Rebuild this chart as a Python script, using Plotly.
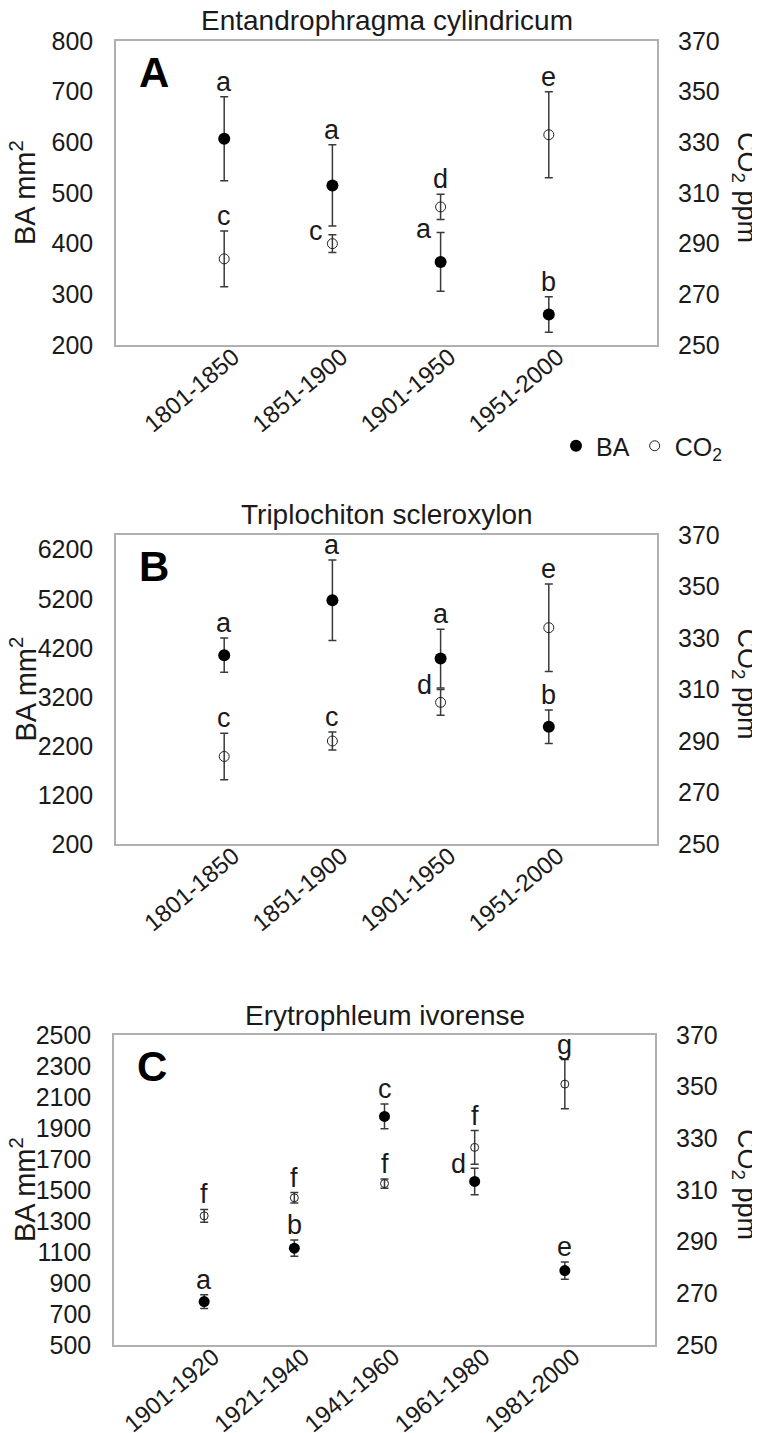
import plotly.graph_objects as go

W, H = 760, 1433

# ---------------- data ----------------
titles = ["Entandrophragma cylindricum", "Triplochiton scleroxylon", "Erytrophleum ivorense"]
panel_letters = ["A", "B", "C"]

cats_ab = ["1801-1850", "1851-1900", "1901-1950", "1951-2000"]
cats_c = ["1901-1920", "1921-1940", "1941-1960", "1961-1980", "1981-2000"]

# Panel A
a_ba = [607, 515, 364, 260]
a_ba_err = [83, 80, 58, 35]
a_co2 = [284, 290, 304.5, 333]
a_co2_err = [11, 3.5, 5, 17]
a_ba_let = ["a", "a", "a", "b"]
a_ba_pos = ["above", "above", "left", "above"]
a_co2_let = ["c", "c", "d", "e"]
a_co2_pos = ["above", "left", "above", "above"]

# Panel B
b_ba = [4050, 5170, 3980, 2590]
b_ba_err = [350, 820, 600, 340]
b_co2 = [284, 290, 305, 334]
b_co2_err = [9, 3.5, 5, 17]
b_ba_let = ["a", "a", "a", "b"]
b_ba_pos = ["above", "above", "above", "above"]
b_co2_let = ["c", "c", "d", "e"]
b_co2_pos = ["above", "above", "left", "above"]

# Panel C
c_ba = [780, 1125, 1975, 1555, 980]
c_ba_err = [45, 52, 80, 85, 55]
c_co2 = [300, 307, 312.5, 326.5, 351]
c_co2_err = [2.5, 2, 1.8, 6.5, 9.5]
c_ba_let = ["a", "b", "c", "d", "e"]
c_ba_pos = ["above", "above", "above", "left", "above"]
c_co2_let = ["f", "f", "f", "f", "g"]
c_co2_pos = ["above", "above", "above", "above", "above"]

left_ranges = [[200, 800], [200, 6500], [500, 2500]]
left_tick0 = [200, 200, 500]
left_dtick = [100, 1000, 200]
right_range = [250, 370]
right_dtick = 20

# ---------------- layout helpers ----------------
FONT = "Liberation Sans, Arial, sans-serif"
INK = "#1a1a1a"
FRAME = "#b0b0b0"
ERR = "#3a3a3a"

def px(x):
    return x / W

def py(y):
    return 1 - y / H

boxes = [  # left, top, right, bottom in pixels
    (108, 33, 649, 337),
    (108, 527, 649, 836),
    (106, 1027, 647, 1337),
]
title_y = [13, 506, 1007]

panels = [
    (cats_ab, a_ba, a_ba_err, a_co2, a_co2_err, a_ba_let, a_ba_pos, a_co2_let, a_co2_pos),
    (cats_ab, b_ba, b_ba_err, b_co2, b_co2_err, b_ba_let, b_ba_pos, b_co2_let, b_co2_pos),
    (cats_c, c_ba, c_ba_err, c_co2, c_co2_err, c_ba_let, c_ba_pos, c_co2_let, c_co2_pos),
]

fig = go.Figure()
annotations = []
layout = dict(
    width=W, height=H, margin=dict(l=0, r=0, t=0, b=0, autoexpand=False),
    paper_bgcolor="white", plot_bgcolor="white",
    font=dict(family=FONT, color=INK, size=25),
)

for i, (cats, ba, ba_e, co2, co2_e, bl, bp, cl, cp) in enumerate(panels):
    xa = "xaxis" if i == 0 else f"xaxis{i+1}"
    xr = "x" if i == 0 else f"x{i+1}"
    yl_n = 2 * i + 1
    yr_n = 2 * i + 2
    yl = "yaxis" if yl_n == 1 else f"yaxis{yl_n}"
    ylr = "y" if yl_n == 1 else f"y{yl_n}"
    yr = f"yaxis{yr_n}"
    yrr = f"y{yr_n}"
    L, T, R, B = boxes[i]
    small = (i == 2)

    fig.add_trace(go.Scatter(
        x=cats, y=ba, mode="markers", name="BA", xaxis=xr, yaxis=ylr,
        showlegend=(i == 0), legendrank=1,
        marker=dict(color="black", size=11 if small else 12, line=dict(width=0)),
        error_y=dict(type="data", array=ba_e, visible=True, color=ERR, thickness=1.5,
                     width=4),
    ))
    fig.add_trace(go.Scatter(
        x=cats, y=co2, mode="markers", name="CO<sub>2</sub>", xaxis=xr, yaxis=yrr,
        showlegend=(i == 0), legendrank=2,
        marker=dict(symbol="circle-open", color="#222222", size=8 if small else 10,
                    line=dict(width=1)),
        error_y=dict(type="data", array=co2_e, visible=True, color=ERR, thickness=1.5,
                     width=4),
    ))

    n = len(cats)
    layout[xa] = dict(
        domain=[px(L), px(R)], anchor=ylr, type="category", range=[-1, n],
        showline=True, mirror=True, linecolor=FRAME, linewidth=1.5,
        showgrid=False, zeroline=False, ticks="", tickangle=-40, automargin=False,
        tickfont=dict(size=24, family=FONT, color=INK),
        ticklabelstandoff=-13, ticklabelshift=9,
        fixedrange=True,
    )
    layout[yl] = dict(
        domain=[py(B), py(T)], anchor=xr, range=left_ranges[i],
        tick0=left_tick0[i], dtick=left_dtick[i], automargin=False,
        showline=True, mirror=True, linecolor=FRAME, linewidth=1.5,
        showgrid=False, zeroline=False, ticks="", ticklabelstandoff=16,
        tickfont=dict(size=25, family=FONT, color=INK),
    )
    layout[yr] = dict(
        domain=[py(B), py(T)], anchor=xr, overlaying=ylr, side="right",
        range=right_range, dtick=right_dtick, tick0=250, automargin=False,
        showline=False, showgrid=False, zeroline=False, ticks="", ticklabelstandoff=20,
        tickfont=dict(size=25, family=FONT, color=INK),
    )

    # titles
    annotations.append(dict(
        text=f"{titles[i]}", x=px((L + R) / 2), y=py(title_y[i]), xref="paper", yref="paper",
        xanchor="center", yanchor="middle", showarrow=False,
        font=dict(size=28, family=FONT, color=INK)))
    # panel letters
    annotations.append(dict(
        text=f"<b>{panel_letters[i]}</b>", x=px(L + 21), y=py(T + 6), xref="paper", yref="paper",
        xanchor="left", yanchor="top", showarrow=False,
        font=dict(size=42, family=FONT, color="black")))
    # axis titles
    annotations.append(dict(
        text="BA mm<sup>2</sup>", x=px(15), y=py((T + B) / 2), xref="paper", yref="paper",
        xanchor="center", yanchor="middle", showarrow=False, textangle=-90,
        font=dict(size=29, family=FONT, color=INK)))
    annotations.append(dict(
        text="CO<sub>2</sub> ppm", x=px(737), y=py((T + B) / 2 - 6), xref="paper", yref="paper",
        xanchor="center", yanchor="middle", showarrow=False, textangle=90,
        font=dict(size=27, family=FONT, color=INK)))

    # significance letters
    for vals, errs, lets, poss, yref in ((ba, ba_e, bl, bp, ylr), (co2, co2_e, cl, cp, yrr)):
        for c, v, e, t, p in zip(cats, vals, errs, lets, poss):
            if p == "above":
                annotations.append(dict(
                    text=t, x=c, y=v + e, xref=xr, yref=yref, xanchor="center",
                    yanchor="bottom", yshift=-2, showarrow=False,
                    font=dict(size=27, family=FONT, color=INK)))
            else:
                annotations.append(dict(
                    text=t, x=c, y=v + e, xref=xr, yref=yref, xanchor="right",
                    yanchor="middle", xshift=-7, yshift=4, showarrow=False,
                    font=dict(size=27, family=FONT, color=INK)))

layout["annotations"] = annotations
layout["legend"] = dict(
    orientation="h", x=px(548), y=py(438), xanchor="left", yanchor="middle",
    font=dict(size=25, family=FONT, color=INK), bgcolor="rgba(0,0,0,0)",
    itemwidth=30, tracegroupgap=0, traceorder="normal",
)
fig.update_layout(**layout)
fig.write_html("out.html")
